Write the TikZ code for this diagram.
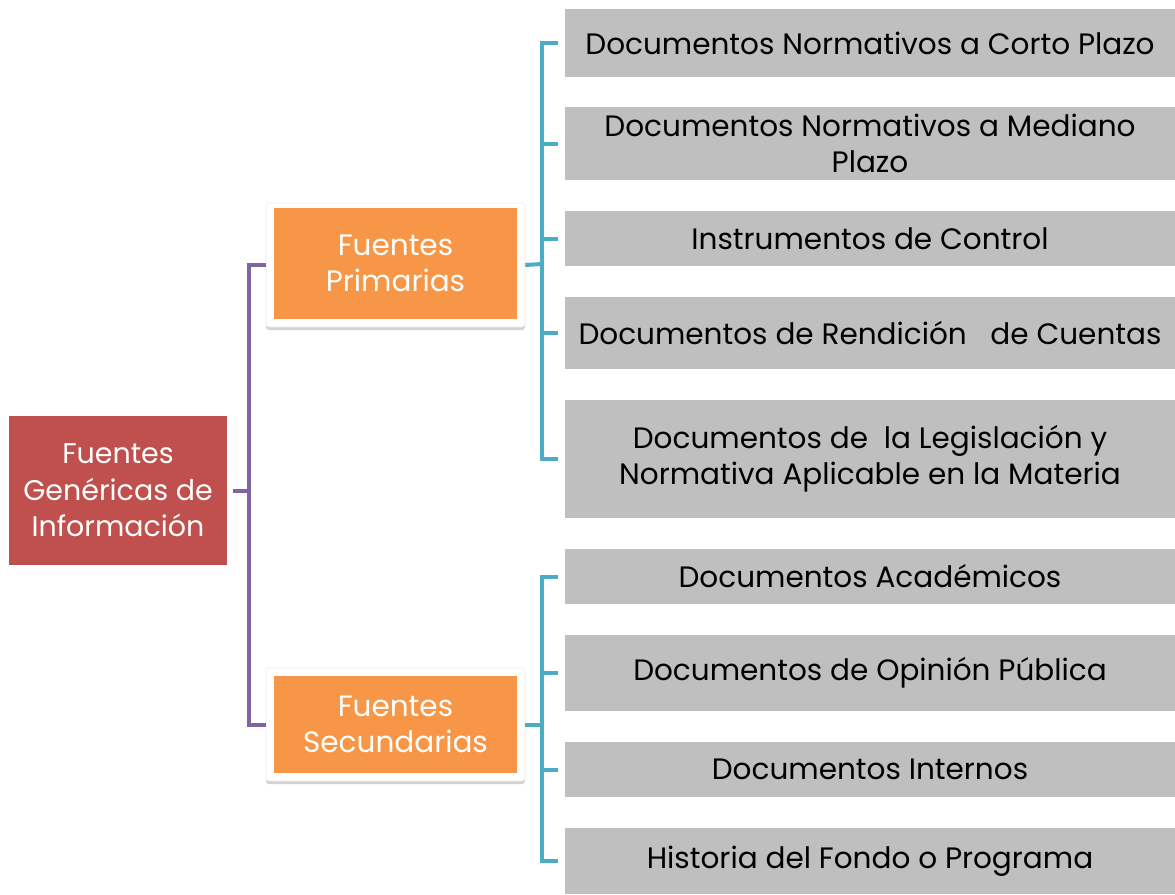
\documentclass[tikz,border=0pt]{standalone}
\usepackage{fontspec}
\setmainfont{Poppins}
\usetikzlibrary{shadows}
\definecolor{grayfill}{HTML}{BFBFBF}
\definecolor{orangefill}{HTML}{F79646}
\definecolor{redfill}{HTML}{C0504D}
\definecolor{purpleline}{HTML}{8064A2}
\definecolor{cyanline}{HTML}{4BACC6}
\begin{document}
\begin{tikzpicture}[x=1pt,y=-1pt,
  txt/.style={font=\fontsize{29.5}{36}\selectfont, align=center, inner sep=0pt},
  graybox/.style={txt, fill=grayfill, text=black, minimum width=610pt},
  framebox/.style={fill=white, draw=black!7, line width=0.6pt, rounded corners=3pt, minimum width=259pt,
    drop shadow={opacity=0.35, shadow xshift=0pt, shadow yshift=-3pt}},
  orangebox/.style={txt, fill=orangefill, text=white, minimum width=243pt},
  redbox/.style={txt, fill=redfill, text=white, minimum width=218pt, minimum height=149pt},
  pline/.style={draw=purpleline, line width=4pt},
  cline/.style={draw=cyanline, line width=4pt}
]
\useasboundingbox (0,0) rectangle (1175,894);
% root
\node[redbox, font=\fontsize{28.5}{36.5}\selectfont] (root) at (118,490.5) {Fuentes\\Genéricas de\\Información};
% frames and orange boxes
\node[framebox, minimum height=124pt] (fp) at (395.5,265) {};
\node[orangebox, minimum height=111pt] (prim) at (395.5,263.5) {Fuentes\\Primarias};
\node[framebox, minimum height=113pt] (fs) at (395.5,724.5) {};
\node[orangebox, minimum height=97pt] (sec) at (395.5,724.5) {Fuentes\\Secundarias};
% gray boxes
\node[graybox, minimum height=68pt] (g1) at (870,43) {Documentos Normativos a Corto Plazo};
\node[graybox, minimum height=73pt] (g2) at (870,143.5) {Documentos Normativos a Mediano\\Plazo};
\node[graybox, minimum height=55pt] (g3) at (870,238.5) {Instrumentos de Control};
\node[graybox, minimum height=72pt] (g4) at (870,333) {Documentos de Rendición \ \ de Cuentas};
\node[graybox, minimum height=118pt] (g5) at (870,459) {Documentos de \ la Legislación y\\Normativa Aplicable en la Materia};
\node[graybox, minimum height=55pt] (g6) at (870,576.5) {Documentos Académicos};
\node[graybox, minimum height=76pt] (g7) at (870,673) {Documentos de Opinión Pública};
\node[graybox, minimum height=55pt] (g8) at (870,769.5) {Documentos Internos};
\node[graybox, minimum height=66pt] (g9) at (870,861) {Historia del Fondo o Programa};
% purple connectors
\coordinate (pb) at (249,490.5);
\draw[pline] ([xshift=6pt]root.east) -- (pb);
\draw[pline] (fp.west) -| (pb) |- (fs.west);
% cyan connectors primary
\coordinate (c1) at (542,264);
\draw[cline] (fp.east) -- (c1);
\draw[cline] ([xshift=-7pt]g1.west) -| (c1) |- ([xshift=-7pt]g5.west);
\draw[cline] (c1 |- g2.west) -- ([xshift=-7pt]g2.west);
\draw[cline] (c1 |- g3.west) -- ([xshift=-7pt]g3.west);
\draw[cline] (c1 |- g4.west) -- ([xshift=-7pt]g4.west);
% cyan connectors secondary
\coordinate (c2) at (542,724.5);
\draw[cline] (fs.east) -- (c2);
\draw[cline] ([xshift=-7pt]g6.west) -| (c2) |- ([xshift=-7pt]g9.west);
\draw[cline] (c2 |- g7.west) -- ([xshift=-7pt]g7.west);
\draw[cline] (c2 |- g8.west) -- ([xshift=-7pt]g8.west);
\end{tikzpicture}
\end{document}
